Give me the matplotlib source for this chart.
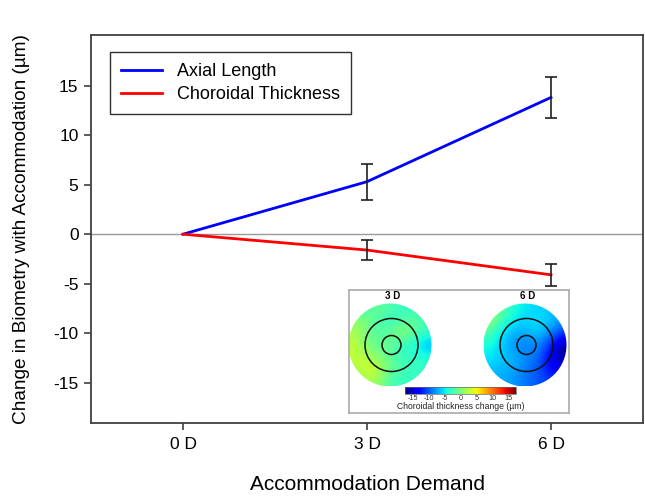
import numpy as np
import matplotlib
matplotlib.use("Agg")
import matplotlib.pyplot as plt
from matplotlib.patches import Circle, Rectangle

plt.rcParams['font.family'] = ['Liberation Sans', 'DejaVu Sans']
plt.rcParams['axes.unicode_minus'] = False

# data
demand = [0, 3, 6]
demand_labels = ['0 D', '3 D', '6 D']
axial_length = [0, 5.3, 13.8]
axial_err = [0, 1.8, 2.1]
choroidal = [0, -1.6, -4.1]
choroidal_err = [0, 1.0, 1.1]

# inset thickness maps (coarse readings, rows top -> bottom)
map_3d = np.array([
    [-3, -2, -1, -2, -3, -3, -3],
    [1, 0, -2, -3, -2, -1, -3],
    [2, 0, -2, -1, 1, -1, -3],
    [3, 0, -1, -1, -3, -4, -7],
    [3, 2, 0, -1, -3, -3, -4],
    [2, 4, 3, -1, -2, -3, -3],
    [0, 2, 1, -2, -3, -3, -3],
])
map_6d = np.array([
    [2, -1, -4, -5, -6, -6, -7],
    [1, -3, -5, -6, -5, -6, -8],
    [-2, -5, -7, -7, -6, -8, -11],
    [-4, -6, -8, -9, -8, -11, -16],
    [-5, -6, -7, -8, -9, -13, -17],
    [-6, -7, -7, -9, -10, -13, -14],
    [-7, -7, -8, -9, -10, -11, -11],
])
cbar_ticks = [-15, -10, -5, 0, 5, 10, 15]

fig = plt.figure(figsize=(6.45, 4.96), dpi=100)
ax = fig.add_axes([91/645, 1-423/496, 552/645, 388/496])

ax.axhline(0, color='#999999', lw=1, zorder=1)
ax.plot(demand, axial_length, color='#0000ff', lw=2, label='Axial Length', zorder=3)
ax.plot(demand, choroidal, color='#ff0000', lw=2, label='Choroidal Thickness', zorder=3)
ax.errorbar(demand[1:], axial_length[1:], yerr=axial_err[1:], fmt='none',
            ecolor='#202020', elinewidth=1.2, capsize=4.5, capthick=1.2, zorder=4)
ax.errorbar(demand[1:], choroidal[1:], yerr=choroidal_err[1:], fmt='none',
            ecolor='#202020', elinewidth=1.2, capsize=4.5, capthick=1.2, zorder=4)

ax.set_xlim(-1.5, 7.5)
ax.set_ylim(-19.05, 20.1)
ax.set_xticks(demand)
ax.set_xticklabels(demand_labels)
ax.set_yticks([-15, -10, -5, 0, 5, 10, 15])
ax.tick_params(labelsize=12.5, color='#404040', length=5, width=1.2, pad=4)
ax.tick_params(axis='x', pad=5)
for s in ax.spines.values():
    s.set_color('#404040')
    s.set_linewidth(1.3)

ax.set_xlabel('Accommodation Demand', fontsize=15, labelpad=17)
ax.set_ylabel('Change in Biometry with Accommodation (\u00b5m)', fontsize=13.7, labelpad=17)

leg = ax.legend(loc='upper left', bbox_to_anchor=(110/645, 1-52/496),
                bbox_transform=fig.transFigure, borderaxespad=0, fontsize=13,
                fancybox=False, edgecolor='#303030', framealpha=1,
                handlelength=2.3, handletextpad=0.8, borderpad=0.6, labelspacing=0.35)
leg.get_frame().set_linewidth(1.0)

# inset in pixel units
ins = fig.add_axes([349/645, 1-413/496, 220/645, 123/496])
ins.set_xlim(0, 220)
ins.set_ylim(123, 0)
ins.set_xticks([])
ins.set_yticks([])
for s in ins.spines.values():
    s.set_color('#aaaaaa')
    s.set_linewidth(1.2)

vmin, vmax = -17.4, 17.4
for grid, cx, label in [(map_3d, 41, '3 D'), (map_6d, 176, '6 D')]:
    cy, r = 55, 41.5
    im = ins.imshow(grid, cmap='jet', vmin=vmin, vmax=vmax, interpolation='bicubic',
                    interpolation_stage='data',
                    extent=[cx - r, cx + r, cy + r, cy - r], zorder=1)
    clip = Circle((cx, cy), r, transform=ins.transData)
    im.set_clip_path(clip)
    ins.add_patch(Circle((cx + 1.5, cy), 26.5, fill=False, ec='#111111', lw=1.1, zorder=2))
    ins.add_patch(Circle((cx + 1.5, cy), 9.5, fill=False, ec='#111111', lw=1.1, zorder=2))
    ins.text(cx + 3, 6, label, ha='center', va='center', fontsize=7, fontweight='bold')

# colour bar
bx0, bx1, by0, by1 = 56, 167, 97, 104
gradient = np.linspace(vmin, vmax, 256).reshape(1, -1)
ins.imshow(gradient, cmap='jet', vmin=vmin, vmax=vmax, aspect='auto',
           extent=[bx0, bx1, by1, by0], zorder=1)
ins.add_patch(Rectangle((bx0, by0), bx1 - bx0, by1 - by0, fill=False, ec='#666666', lw=0.5))
for t in cbar_ticks:
    x = bx0 + (t - vmin) / (vmax - vmin) * (bx1 - bx0)
    ins.text(x, 108.5, str(t), ha='center', va='center', fontsize=5.2, color='#333333')
ins.text((bx0 + bx1) / 2, 116.5, 'Choroidal thickness change (\u00b5m)', ha='center',
         va='center', fontsize=6.2, color='#222222')

fig.savefig('out.png', dpi=100)
